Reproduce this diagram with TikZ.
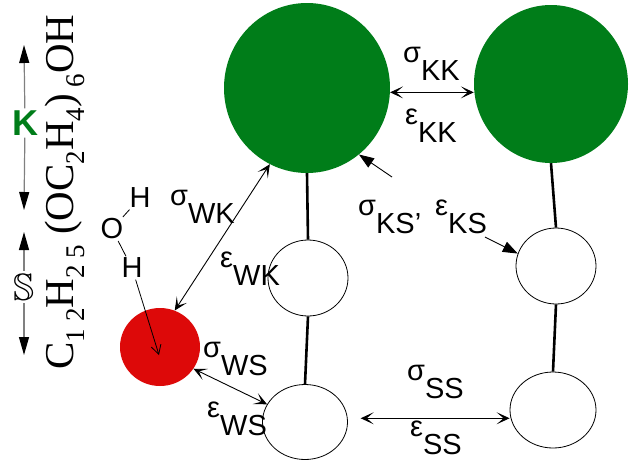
\documentclass[tikz,border=0pt]{standalone}
\usepackage{amssymb}
\usepackage{fontspec}
\setmainfont{Liberation Sans}
\newfontfamily\chemfont{Liberation Serif}
\usetikzlibrary{arrows.meta,shapes.geometric}

\definecolor{kgreen}{RGB}{0,125,25}
\definecolor{wred}{RGB}{221,9,9}
\newcommand{\plab}[2]{#1\raisebox{-18pt}{#2}}
\newcommand{\csub}[1]{\raisebox{-11pt}{\fontsize{27}{27}\selectfont #1}}

\begin{document}
\begin{tikzpicture}[x=1pt,y=-1pt,
    bead/.style={ellipse,draw,line width=0.8pt,inner sep=0pt},
    kbead/.style={ellipse,fill=kgreen,inner sep=0pt},
    bond/.style={line width=2.6pt},
    pair/.style={line width=0.9pt,{Stealth[length=13pt,width=12pt,inset=7pt]}-{Stealth[length=13pt,width=12pt,inset=7pt]}},
    kick/.style={line width=0.9pt,-{Triangle[length=15pt,width=11pt]}},
    vtip/.style={draw=gray,line width=1.2pt,-{Triangle[length=18pt,width=10pt,black]}},
    lab/.style={font=\fontsize{29}{32}\selectfont,anchor=base west,inner sep=0pt},
    atom/.style={font=\fontsize{29}{32}\selectfont,inner sep=1.5pt}]
  \useasboundingbox (0,0) rectangle (632,461);
  % beads
  \node[kbead,minimum width=166pt,minimum height=170pt] (K1) at (307,88) {};
  \node[kbead,minimum width=154pt,minimum height=158pt] (K2) at (551,84) {};
  \node[bead,minimum width=80pt,minimum height=76pt] (S1) at (308,278) {};
  \node[bead,minimum width=85pt,minimum height=75pt] (S2) at (305,422) {};
  \node[bead,minimum width=80pt,minimum height=76pt] (S3) at (556,266) {};
  \node[bead,minimum width=86pt,minimum height=76pt] (S4) at (553,410) {};
  \node[ellipse,fill=wred,inner sep=0pt,minimum width=80pt,minimum height=78pt] (W) at (160,347) {};
  \draw[bond] (K1.south) -- (S1.north);
  \draw[bond] (S1.south) -- (S2.north);
  \draw[bond] (K2.south) -- (S3.north);
  \draw[bond] (S3.south) -- (S4.north);
  % interactions
  \draw[pair] (K1.-3) -- (K1.-3 -| K2.west);
  \draw[pair] (W.68) -- (K1.244);
  \draw[pair] (W.-33) -- (S2.155);
  \draw[pair,shorten <=13pt] (S2.5) -- (S2.5 -| S4.west);
  \coordinate (ks1) at (392,177);
  \coordinate (ks2) at (485,237);
  \draw[kick] (ks1) -- (K1.-52);
  \draw[kick] (ks2) -- (S3.162);
  \node[lab] (sKK) at (403,62) {\plab{σ}{KK}};
  \node[lab] (eKK) at (405,124) {\plab{ε}{KK}};
  \node[lab] (sWK) at (170,205) {\plab{σ}{WK}};
  \node[lab] (eWK) at (220,267) {\plab{ε}{WK}};
  \node[lab] (sWS) at (203,357) {\plab{σ}{WS}};
  \node[lab] (eWS) at (207,417) {\plab{ε}{WS}};
  \node[lab] (sSS) at (407,380) {\plab{σ}{SS}};
  \node[lab] (eSS) at (410,436) {\plab{ε}{SS}};
  \node[lab] (KS) at (358,215) {\plab{σ}{KS’}\hspace{14pt}\plab{ε}{KS}};
  % water
  \node[atom] (O) at (112,229) {O};
  \node[atom] (H1) at (140,198) {H};
  \node[atom] (H2) at (132,268) {H};
  \coordinate (wtip) at (159,355);
  \draw[line width=0.8pt] (O) -- (H1);
  \draw[line width=0.8pt] (O) -- (H2);
  \draw[line width=0.8pt,-{Straight Barb[length=9pt,width=10pt]}] (H2) -- (wtip);
  % surfactant
  \node[font=\bfseries\fontsize{36}{38}\selectfont,text=kgreen,inner sep=2pt] (Kl) at (25,123) {K};
  \node[inner sep=3pt] (Sl) at (24,287) {\scalebox{3.8}{$\mathbb{S}$}};
  \coordinate (Kt) at (24,45);
  \coordinate (Kb) at (24,210);
  \coordinate (St) at (24,232);
  \coordinate (Sb) at (24,355);
  \draw[vtip] (Kl) -- (Kt);
  \draw[vtip] (Kl) -- (Kb);
  \draw[vtip] (Sl) -- (St);
  \draw[vtip] (Sl) -- (Sb);
  \node[rotate=90,anchor=base,inner sep=0pt,font=\chemfont\fontsize{41}{41}\selectfont] (chem) at (73,192)
    {C\csub{1 2}H\csub{2 5} (OC\csub{2}H\csub{4})\,\csub{6}OH};
\end{tikzpicture}
\end{document}
